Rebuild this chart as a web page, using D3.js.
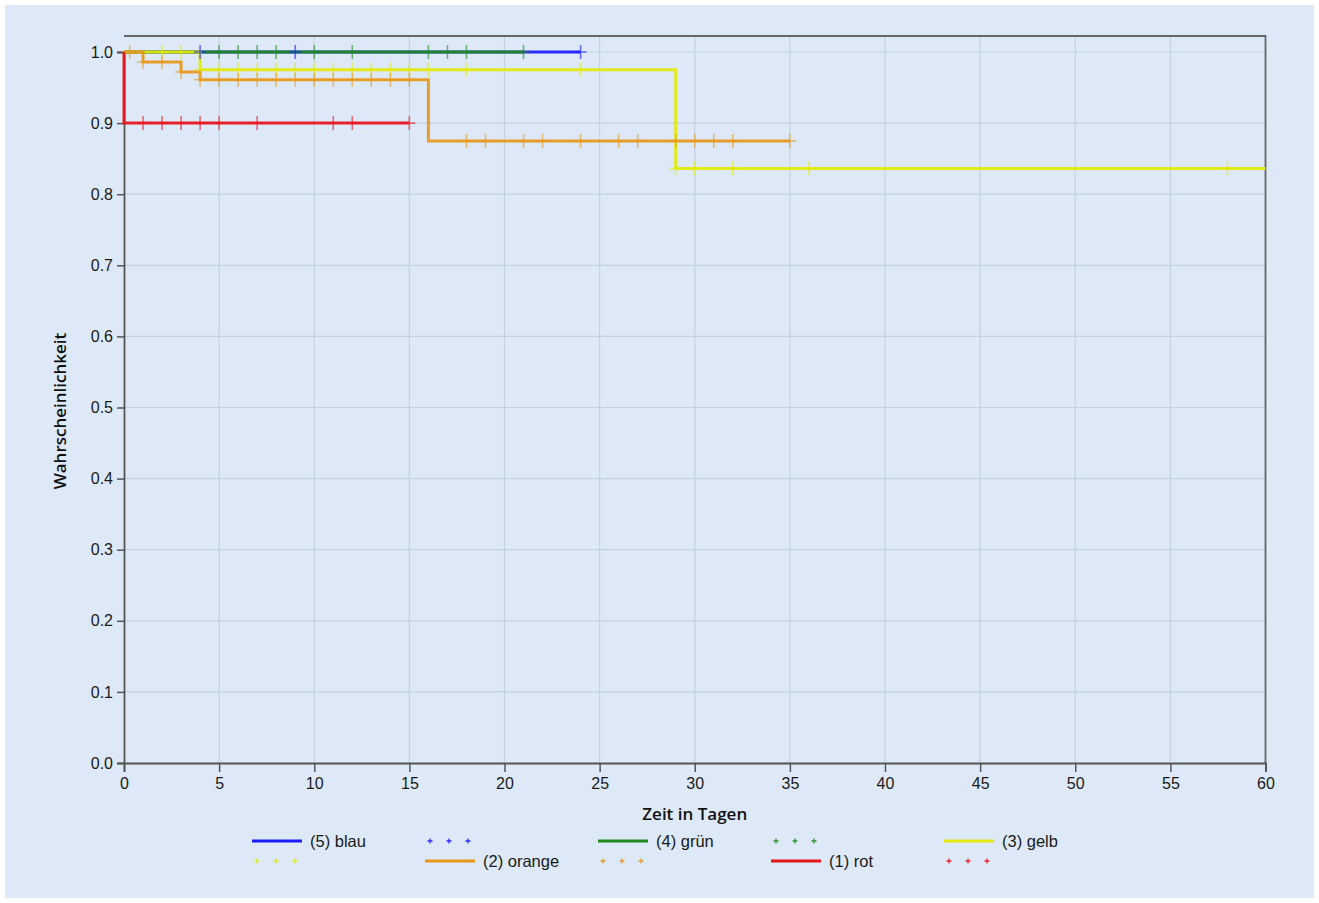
<!DOCTYPE html>
<html>
<head>
<meta charset="utf-8">
<script src="https://cdn.jsdelivr.net/npm/d3@7"></script>
<style>
  body{margin:0;background:#fff;}
  svg{display:block;}
</style>
</head>
<body>
<svg id="chart" width="1319" height="903"></svg>
<script>
// ---- data ----
const xTicks = [0,5,10,15,20,25,30,35,40,45,50,55,60];
const yTicks = [0,0.1,0.2,0.3,0.4,0.5,0.6,0.7,0.8,0.9,1.0];

const blauTimes = [0];
const blauSurv = [1.0];
const blauEnd = 24;
const blauCens = [4,9,24];

const gruenTimes = [0];
const gruenSurv = [1.0];
const gruenEnd = 21;
const gruenCens = [5,6,7,8,10,12,16,17,18,21];

const gelbTimes = [0,4,29];
const gelbSurv = [1.0,0.975,0.836];
const gelbEnd = 60;
const gelbCens = [2,3,4,5,6,7,8,9,10,11,12,13,14,15,16,18,24,29,30,32,36,58];

const orangeTimes = [0,1,3,4,16];
const orangeSurv = [1.0,0.986,0.972,0.961,0.875];
const orangeEnd = 35;
const orangeCens = [0.3,1,2,3,4,5,6,7,8,9,10,11,12,13,14,15,18,19,21,22,24,26,27,29,30,31,32,35];

const rotTimes = [0,0];
const rotSurv = [1.0,0.9];
const rotEnd = 15;
const rotCens = [1,2,3,4,5,7,11,12,15];

const legendLabels = ["(5) blau","(4) grün","(3) gelb","(2) orange","(1) rot"];

// drawing order: blue first, red on top
const series = [
  {name:legendLabels[0], times:blauTimes, surv:blauSurv, end:blauEnd, cens:blauCens, color:"#1a1aff"},
  {name:legendLabels[1], times:gruenTimes, surv:gruenSurv, end:gruenEnd, cens:gruenCens, color:"#1f8a1f"},
  {name:legendLabels[2], times:gelbTimes, surv:gelbSurv, end:gelbEnd, cens:gelbCens, color:"#e3e90a"},
  {name:legendLabels[3], times:orangeTimes, surv:orangeSurv, end:orangeEnd, cens:orangeCens, color:"#e8971a"},
  {name:legendLabels[4], times:rotTimes, surv:rotSurv, end:rotEnd, cens:rotCens, color:"#e8141c"}
];

// ---- layout ----
const svg = d3.select("#chart");
const plotLeft = 124, plotRight = 1265.5, plotTop = 36, plotBottom = 763;

svg.append("rect").attr("x",5).attr("y",5).attr("width",1309).attr("height",893)
  .attr("fill","#dde9f7");

const x = d3.scaleLinear().domain([0,60]).range([plotLeft,plotRight]);
const y = d3.scaleLinear().domain([0,1]).range([plotBottom,52]);

// grid
svg.append("g").selectAll("line").data(xTicks.slice(1)).enter().append("line")
  .attr("x1",d=>x(d)).attr("x2",d=>x(d)).attr("y1",plotTop).attr("y2",plotBottom)
  .attr("stroke","#c3d1de").attr("stroke-width",1.2);
svg.append("g").selectAll("line").data(yTicks.slice(1)).enter().append("line")
  .attr("x1",plotLeft).attr("x2",plotRight).attr("y1",d=>y(d)).attr("y2",d=>y(d))
  .attr("stroke","#c3d1de").attr("stroke-width",1.2);

// frame
svg.append("path")
  .attr("d",`M${plotLeft},${plotTop}H${plotRight}V${plotBottom}`)
  .attr("fill","none").attr("stroke","#666").attr("stroke-width",1.8);

// axes
const xAxis = svg.append("g").attr("transform",`translate(0,${plotBottom})`)
  .call(d3.axisBottom(x).tickValues(xTicks).tickSize(9).tickPadding(6).tickFormat(d3.format("d")));
const yAxis = svg.append("g").attr("transform",`translate(${plotLeft},0)`)
  .call(d3.axisLeft(y).tickValues(yTicks).tickSize(7).tickPadding(4).tickFormat(d3.format(".1f")));
[xAxis,yAxis].forEach(a=>{
  a.select(".domain").attr("stroke","#555").attr("stroke-width",1.8);
  a.selectAll(".tick line").attr("stroke","#555").attr("stroke-width",1.5);
  a.selectAll(".tick text").attr("fill","#1a1a1a")
    .style("font-family","'Liberation Sans', Arial, sans-serif").style("font-size","16px");
});

// axis titles
svg.append("text").attr("x",(plotLeft+plotRight)/2).attr("y",820).attr("text-anchor","middle")
  .style("font-family","'Open Sans', sans-serif").style("font-weight","600").style("font-size","17px")
  .attr("fill","#111").text("Zeit in Tagen");
svg.append("text").attr("transform","translate(66,411) rotate(-90)").attr("text-anchor","middle")
  .style("font-family","'Open Sans', sans-serif").style("font-weight","600").style("font-size","17px")
  .attr("fill","#111").text("Wahrscheinlichkeit");

// curves
function survAt(s,t){
  let v = s.surv[0];
  for(let i=0;i<s.times.length;i++){ if(s.times[i]<=t) v = s.surv[i]; }
  return v;
}
const stepLine = d3.line().x(d=>x(d[0])).y(d=>y(d[1])).curve(d3.curveStepAfter);

const plot = svg.append("g");
series.forEach(s=>{
  const pts = s.times.map((t,i)=>[t,s.surv[i]]);
  pts.push([s.end,s.surv[s.surv.length-1]]);
  plot.append("path").datum(pts).attr("d",stepLine)
    .attr("fill","none").attr("stroke",s.color).attr("stroke-width",3)
    .attr("stroke-opacity",0.92);
});

function cross(g,cx,cy,hw,hh,color,op,w){
  g.append("path").attr("d",`M${cx-hw},${cy}H${cx+hw}M${cx},${cy-hh}V${cy+hh}`)
    .attr("stroke",color).attr("stroke-width",w).attr("stroke-opacity",op).attr("fill","none");
}
series.forEach(s=>{
  const g = plot.append("g");
  s.cens.forEach(t=>cross(g,x(t),y(survAt(s,t)),6,7,s.color,0.6,1.6));
});

// legend
const legCols = [252,425,598,771,944];
const legRows = [841,861];
const legFont = "'Liberation Sans', Arial, sans-serif";
const leg = svg.append("g");
let slot = 0;
series.forEach(s=>{
  // line entry
  let cx = legCols[slot%5], cy = legRows[Math.floor(slot/5)];
  leg.append("line").attr("x1",cx).attr("x2",cx+50).attr("y1",cy).attr("y2",cy)
    .attr("stroke",s.color).attr("stroke-width",3);
  leg.append("text").attr("x",cx+58).attr("y",cy+6).text(s.name)
    .style("font-family",legFont).style("font-size","16.5px").attr("fill","#1a1a1a");
  slot++;
  // marker entry
  cx = legCols[slot%5]; cy = legRows[Math.floor(slot/5)];
  [5,24,43].forEach(o=>cross(leg,cx+o,cy,2.5,2.5,s.color,0.9,1.3));
  slot++;
});
</script>
</body>
</html>
